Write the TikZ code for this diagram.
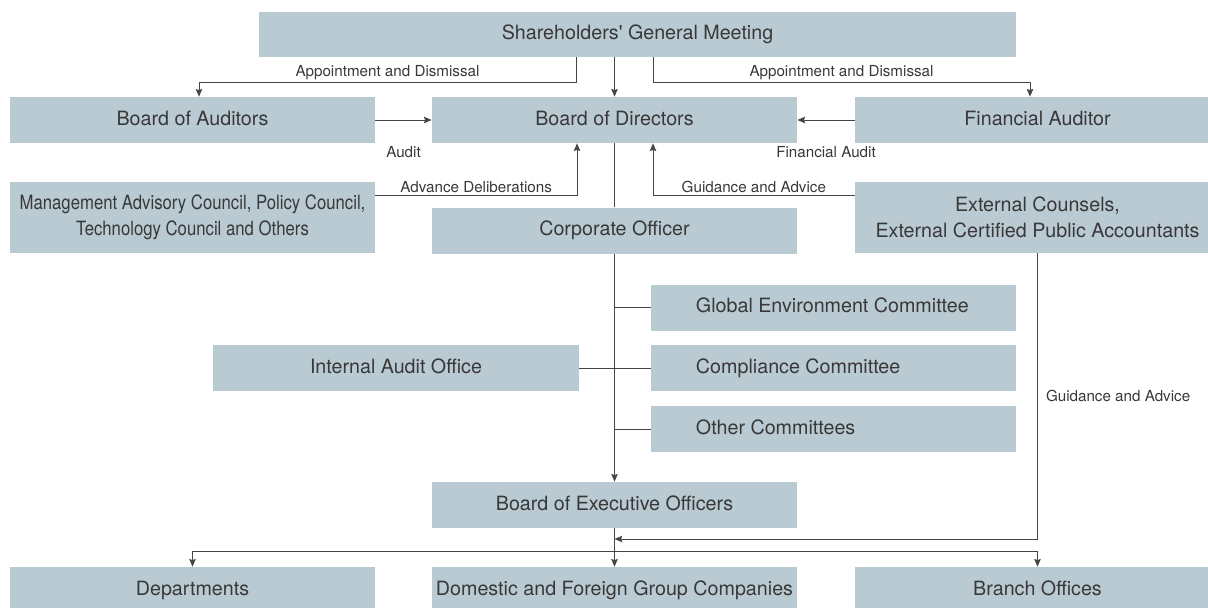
\documentclass[tikz,border=0pt]{standalone}
\usepackage{fontspec}
\setmainfont{TeX Gyre Heros}
\newfontfamily\narrowfont[FakeStretch=0.85]{TeX Gyre Heros}
\usetikzlibrary{arrows.meta}

\definecolor{boxblue}{HTML}{B9CAD3}
\definecolor{inkgray}{HTML}{383838}
\definecolor{linegray}{HTML}{454545}

% committee names sit flush left in their boxes
\newcommand{\leftset}[1]{\makebox[6.875cm][l]{#1}}

\tikzset{
  unit/.style={fill=boxblue, text=inkgray, minimum width=9.125cm, minimum height=1.15cm,
    inner sep=0pt, align=center, text height=0.72em, text depth=0pt,
    font=\fontsize{14}{18.5}\selectfont},
  tallunit/.style={unit, minimum height=1.775cm, text height=, text depth=},
  wideunit/.style={unit, minimum width=18.925cm, minimum height=1.125cm},
  commit/.style={unit, inner xsep=1.125cm},
  note/.style={text=inkgray, inner sep=0pt, font=\fontsize{10.8}{13}\selectfont},
  wire/.style={draw=linegray, line width=0.7pt},
  tip/.style={wire, -{Stealth[length=5.5pt,width=4.6pt,inset=0.8pt]}},
}

\begin{document}
\begin{tikzpicture}[x=0.025cm, y=-0.025cm]
    \useasboundingbox (0,0) rectangle (1208,607);
    \clip (0,0) rectangle (1208,607);

    % boxes
    \node[wideunit] (meeting) at (637.5,34.5) {Shareholders\textquotesingle{} General Meeting};
    \node[unit] (auditors) at (192.5,120) {Board of Auditors};
    \node[unit] (directors) at (614.5,120) {Board of Directors};
    \node[unit] (finaudit) at (1037.5,120) {Financial Auditor};
    \node[tallunit, font=\narrowfont\fontsize{14}{18.5}\selectfont] (councils) at (192.5,217.5)
        {Management Advisory Council, Policy Council,\\Technology Council and Others};
    \node[unit] (officer) at (614.5,230.5) {Corporate Officer};
    \node[tallunit] (counsels) at (1037.5,217.5) {External Counsels,\\External Certified Public Accountants};
    \node[commit] (environment) at (833.5,307.5) {\leftset{Global Environment Committee}};
    \node[unit] (internal) at (396,368) {Internal Audit Office};
    \node[commit] (compliance) at (833.5,368) {\leftset{Compliance Committee}};
    \node[commit] (othercomm) at (833.5,429) {\leftset{Other Committees}};
    \node[unit] (executives) at (614.5,505) {Board of Executive Officers};
    \node[unit] (departments) at (192.5,590) {Departments};
    \node[unit] (groupco) at (614.5,590) {Domestic and Foreign Group Companies};
    \node[unit] (branches) at (1037.5,590) {Branch Offices};

    % bend points
    \coordinate (apL) at (576,82);
    \coordinate (apLx) at (199,82);
    \coordinate (apR) at (653,82);
    \coordinate (apRx) at (1030,82);
    \coordinate (adv) at (577,195);
    \coordinate (gui) at (653,195);
    \coordinate (feed) at (614.5,539);
    \coordinate (split) at (614.5,551);

    % top level
    \draw[tip] (directors.north |- meeting.south) -- (directors.north);
    \draw[tip] (meeting.south -| apL) -- (apL) -- node[note, above=1pt] {Appointment and Dismissal} (apLx) -- (apLx |- auditors.north);
    \draw[tip] (meeting.south -| apR) -- (apR) -- node[note, above=1pt] {Appointment and Dismissal} (apRx) -- (apRx |- finaudit.north);
    \draw[tip] (auditors) -- node[note, below=0.65cm] {Audit} (directors);
    \draw[tip] (finaudit) -- node[note, below=0.65cm] {Financial Audit} (directors);
    \draw[tip] (councils.east |- adv) -- node[note, above=1pt] {Advance Deliberations} (adv) -- (adv |- directors.south);
    \draw[tip] (counsels.west |- gui) -- node[note, above=1pt] {Guidance and Advice} (gui) -- (gui |- directors.south);

    % spine and committees
    \draw[wire] (directors) -- (officer);
    \draw[tip] (officer) -- (executives);
    \draw[wire] (environment.west) -- (environment.west -| officer.south);
    \draw[wire] (internal) -- (compliance);
    \draw[wire] (othercomm.west) -- (othercomm.west -| officer.south);
    \draw[tip] (counsels.south) |- node[note, pos=0.25, right=0.2cm] {Guidance and Advice} (feed);

    % bottom level
    \draw[tip] (executives) -- (groupco);
    \draw[tip] (split) -| (departments.north);
    \draw[tip] (split) -| (branches.north);
\end{tikzpicture}
\end{document}
